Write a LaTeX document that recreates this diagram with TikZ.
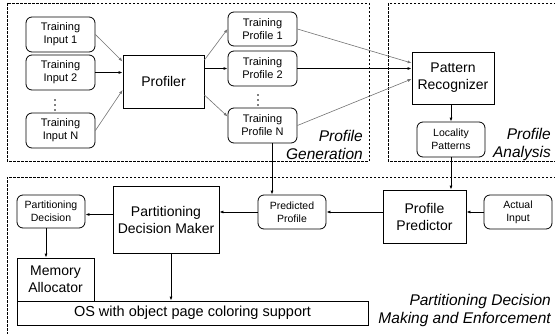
\documentclass[tikz,border=0pt]{standalone}
\usepackage{fontspec}
\setmainfont{Liberation Sans}
\usetikzlibrary{arrows.meta,calc}
\begin{document}
\begin{tikzpicture}[x=1pt,y=-1pt,
  box/.style={draw,line width=0.8pt,inner sep=0pt,align=center},
  rbox/.style={box,rounded corners=6pt},
  tfont/.style={font=\fontsize{11}{13}\selectfont},
  sfont/.style={font=\fontsize{10.5}{13}\selectfont},
  bfont/.style={font=\fontsize{14}{17}\selectfont},
  lbl/.style={font=\fontsize{15.5}{18}\selectfont\itshape,align=right,anchor=east,inner sep=0pt},
  region/.style={line width=0.7pt,dash pattern=on 2.5pt off 1.5pt},
  arr/.style={line width=0.8pt,-{Latex[length=4pt,width=3pt]}},
  garr/.style={line width=0.6pt,draw=black!55,-{Latex[length=4pt,width=3pt]}},
  dotc/.style={fill=black}
]
\useasboundingbox (0,0) rectangle (555,333);
% regions
\draw[region] (7,3) rectangle (369,161);
\draw[region] (556,3) -- (388,3) -- (388,161) -- (556,161);
\draw[region] (556,177) -- (7,177) -- (7,334);
% profile generation
\node[rbox,tfont,minimum width=69pt,minimum height=35pt] (in1) at (60.5,34.5) {Training\\Input 1};
\node[rbox,tfont,minimum width=69pt,minimum height=35pt] (in2) at (60.5,72.5) {Training\\Input 2};
\foreach \yy in {100,105,110} \fill[dotc] (55,\yy) circle (0.9);
\node[rbox,tfont,minimum width=69pt,minimum height=35pt] (inN) at (60.5,130.5) {Training\\Input N};
\node[box,bfont,minimum width=81pt,minimum height=53pt] (prof) at (163.5,81.5) {Profiler};
\node[rbox,tfont,minimum width=69pt,minimum height=34pt] (p1) at (262.5,29) {Training\\Profile 1};
\node[rbox,tfont,minimum width=69pt,minimum height=35pt] (p2) at (262.5,68.5) {Training\\Profile 2};
\foreach \yy in {95,100,105} \fill[dotc] (258,\yy) circle (0.9);
\node[rbox,tfont,minimum width=69pt,minimum height=35pt] (pN) at (262.5,125.5) {Training\\Profile N};
\node[lbl] (lgen) at (363,144.5) {Profile\\Generation};
% profile analysis
\node[box,bfont,minimum width=82pt,minimum height=52pt] (pr) at (453,78) {Pattern\\Recognizer};
\node[rbox,sfont,minimum width=68pt,minimum height=35pt] (loc) at (451,139.5) {Locality\\Patterns};
\node[lbl] (lana) at (551,144.5) {Profile\\Analysis};
% partitioning
\node[rbox,sfont,minimum width=68pt,minimum height=33pt] (pd) at (51,211.5) {Partitioning\\Decision};
\node[box,bfont,minimum width=106pt,minimum height=67pt] (pdm) at (166,219.5) {Partitioning\\Decision Maker};
\node[rbox,sfont,minimum width=68pt,minimum height=34pt] (pred) at (292,212) {Predicted\\Profile};
\node[box,bfont,minimum width=83pt,minimum height=53pt] (ppred) at (424.5,216.5) {Profile\\Predictor};
\node[rbox,sfont,minimum width=68pt,minimum height=34pt] (act) at (518,212) {Actual\\Input};
\node[box,bfont,minimum width=77pt,minimum height=43pt] (mem) at (55.5,279.5) {Memory\\Allocator};
\node[box,font=\fontsize{14.5}{17}\selectfont,minimum width=351pt,minimum height=24pt] (os) at (192.5,313) {OS with object page coloring support};
\node[lbl] (lpart) at (551,310.5) {Partitioning Decision\\Making and Enforcement};
% connectors: generation
\draw[garr] (in1.east) -- ([yshift=20pt]prof.west);
\draw[arr] (in2.east) -- (in2.east -| prof.west);
\draw[garr] (inN.east) -- ([yshift=-8.5pt]prof.west);
\draw[garr] ([yshift=21.5pt]prof.east) -- (p1.west);
\draw[arr] (prof.east |- p2.west) -- (p2.west);
\draw[garr] ([yshift=-13.5pt]prof.east) -- ([yshift=9pt]pN.west);
% connectors: analysis
\draw[garr] (p1.east) -- ([yshift=15pt]pr.west);
\draw[arr] (p2.east) -- (p2.east -| pr.west);
\draw[garr] (pN.east) -- ([yshift=-1pt]pr.west);
\draw[arr] (loc.north |- pr.south) -- (loc.north);
\draw[arr] (loc.south) -- (loc.south |- ppred.north);
% connectors: partitioning
\coordinate (pNo) at ([xshift=9.5pt]pN.south);
\draw[arr] (pNo) -- (pNo |- pred.north);
\draw[arr] (act.west) -- (act.west -| ppred.east);
\draw[arr] (ppred.west |- pred.east) -- (pred.east);
\draw[arr] (pred.west) -- (pred.west -| pdm.east);
\draw[arr] ([yshift=-3pt]pdm.west |- pd.east) -- ([yshift=-3pt]pd.east);
\coordinate (pdo) at ([xshift=-5pt]pd.south);
\draw[arr] (pdo) -- (pdo |- mem.north);
\coordinate (pdmo) at ([xshift=5pt]pdm.south);
\draw[arr] (pdmo) -- (pdmo |- os.north);
\end{tikzpicture}
\end{document}
